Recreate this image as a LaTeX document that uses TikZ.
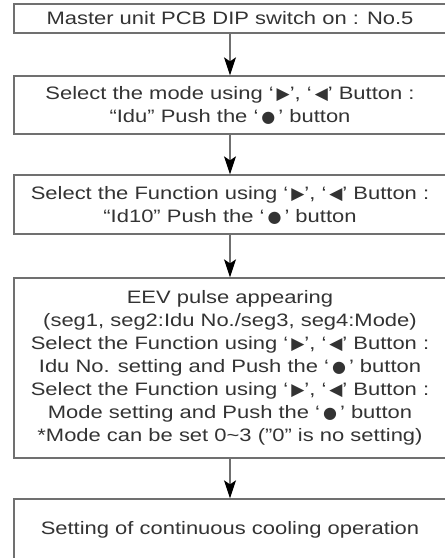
\documentclass[tikz,border=0pt]{standalone}
\usepackage{fontspec}
\setmainfont[FakeStretch=1.22]{Liberation Sans}
\newfontfamily\symf{DejaVu Sans}
\usetikzlibrary{arrows.meta}
\definecolor{boxline}{HTML}{707070}
\definecolor{txt}{HTML}{333333}
\newcommand{\rt}{\smash{\symf\fontsize{17}{17}\selectfont ▶}}
\newcommand{\lt}{\smash{\symf\fontsize{17}{17}\selectfont ◀}}
\newcommand{\dt}{\smash{\symf\fontsize{16}{16}\selectfont ●}}
\begin{document}
\begin{tikzpicture}[x=1pt,y=-1pt,
  box/.style={draw=boxline, line width=1.3pt, minimum width=432pt, inner sep=0pt,
    align=center, text=txt, font=\fontsize{18}{23}\selectfont},
  flow/.style={draw=boxline, line width=1.3pt,
    -{Stealth[length=18pt,width=12pt,inset=4pt,color=black]}}]
\useasboundingbox (0,0) rectangle (445,558);
\node[box, minimum height=29pt] (b1) at (230,18.5) {Master unit PCB DIP switch on : No.5};
\node[box, minimum height=58pt] (b2) at (230,105) {Select the mode using ‘\,\rt’, ‘\,\lt’ Button :\\“Idu” Push the ‘\,\dt\,’ button};
\node[box, minimum height=59pt] (b3) at (230,204.5) {Select the Function using ‘\,\rt’, ‘\,\lt’ Button :\\“Id10” Push the ‘\,\dt\,’ button};
\node[box, minimum height=180pt] (b4) at (230,368) {EEV pulse appearing\\(seg1, seg2:Idu No./seg3, seg4:Mode)\\Select the Function using ‘\,\rt’, ‘\,\lt’ Button :\\Idu No. setting and Push the ‘\,\dt\,’ button\\Select the Function using ‘\,\rt’, ‘\,\lt’ Button :\\Mode setting and Push the ‘\,\dt\,’ button\\*Mode can be set 0\char`~3 (”0” is no setting)};
\node[box, minimum height=62pt] (b5) at (230,530) {Setting of continuous cooling operation};
\draw[flow] (b1) -- (b2);
\draw[flow] (b2) -- (b3);
\draw[flow] (b3) -- (b4);
\draw[flow] (b4) -- (b5);
\end{tikzpicture}
\end{document}
